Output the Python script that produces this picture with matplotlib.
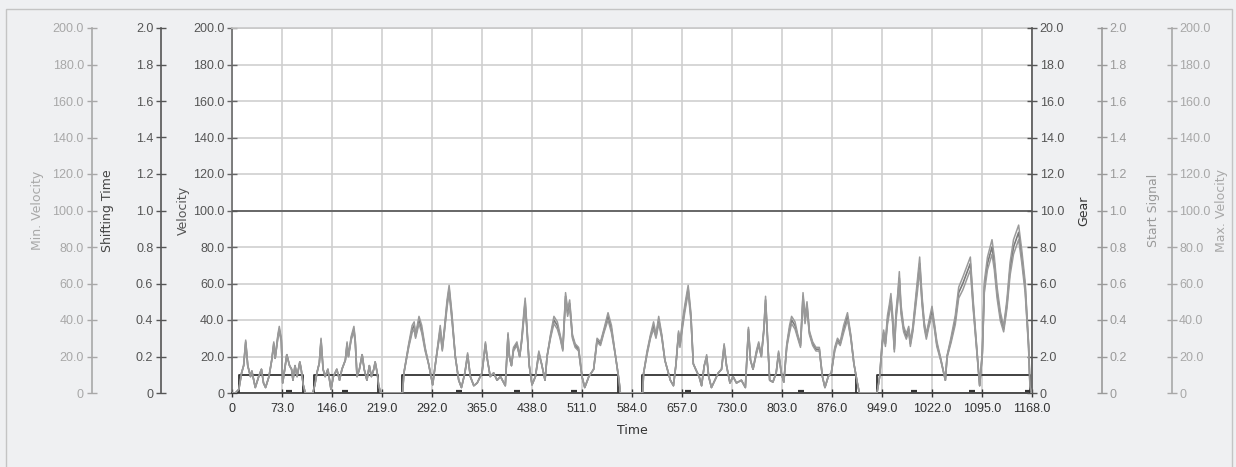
import matplotlib.pyplot as plt
from matplotlib.patches import Rectangle
from matplotlib.ticker import FuncFormatter
import numpy as np

plt.rcParams['font.family'] = ['Liberation Sans', 'DejaVu Sans']
plt.rcParams['font.size'] = 9
LABEL_FONT = dict(family=['DejaVu Sans'], size=9)

# velocity trace, one line per drive segment
time = [
    0, 5, 10, 14, 17, 20, 23, 27, 29, 34, 39, 43, 46, 49, 54, 58, 61, 63, 67, 69, 72, 74, 77, 80, 84, 87, 89, 92, 95, 99, 101, 104, 107,
    110, 118, 121, 124, 127.5, 130, 133, 136, 140, 144.5, 148, 153, 157, 160.5, 165.5, 168, 170, 174, 178, 180, 182.5, 186, 190, 193, 197, 200.5, 203.5, 207, 209, 212, 214, 217,
    230, 249, 251, 258, 263, 266, 268, 273, 277, 282, 287, 293, 297, 301, 304, 307, 310, 314, 317, 321,
    326, 331, 335, 340, 344, 348, 353, 358, 365, 370, 373, 377, 382, 387, 392, 399, 403, 405, 408, 411,
    416, 420, 423, 426, 428, 431, 434, 438, 443, 448, 452, 457, 460, 465, 470, 475, 479, 483, 487, 490,
    493, 497, 501, 506, 511, 515, 521, 528, 533, 538, 543, 549, 554, 560, 565, 567,
    580, 599.5, 601, 606, 611, 615.5, 619, 623, 627.5, 632, 640, 644.5, 648, 652, 654, 657.5, 661, 666, 670, 673.5,
    677, 682, 685.6, 689.5, 693, 696, 700, 705, 710, 714.7, 718.5, 722, 727, 731.6, 736.5, 743.7, 749.5, 754, 757, 760.7,
    765.5, 769, 772.8, 776.6, 779, 781.5, 785, 789.7, 794.5, 798, 802, 805.7, 810, 814, 817, 822, 826, 830, 833.7, 836.6,
    839.5, 843, 847.8, 852.6, 857.5, 862, 865.7, 870.5, 875, 880, 884, 888, 893, 898.6, 903.4, 908, 913, 916,
    930, 941.7, 945.6, 949, 951.4, 954, 957, 959.7, 962, 964.6, 967, 969.4, 972, 974.3, 976.7, 980.6, 984.5, 988, 990.4, 994,
    997.7, 1001, 1004, 1007.4, 1010.8, 1013.7, 1017, 1022, 1025.4, 1029, 1035, 1041.5, 1044, 1049.8, 1056, 1061, 1067, 1073, 1078, 1082,
    1087.7, 1091.6, 1095.5, 1098.4, 1103, 1109.6, 1113, 1117, 1121.8, 1126.6, 1131.5, 1136, 1141, 1148.5, 1153, 1158, 1163, 1165, 1167, 1168,
]
velocity = [
    0, 0, 2, 11, 15, 28, 15, 9, 12, 3, 9, 13, 5.5, 3, 9, 18, 27, 19, 31, 35, 29, 5.5, 13, 21, 15, 13, 7, 15, 9, 17, 13, 4.5, 0,
    0, 0, 4.5, 11, 16.5, 29, 13, 9, 13, 2, 9, 13, 7, 13, 18, 27, 20, 30, 35, 28, 9, 13, 21, 13, 7, 15, 9, 13, 17, 11, 4.5, 0,
    0, 0, 11, 26, 35, 37, 31, 40, 35, 24, 16, 4.5, 16, 27, 35, 24, 34, 49, 57, 42,
    20, 7, 3, 11, 21, 9, 4, 5.5, 11, 27, 18, 9, 11, 7, 9, 4, 32, 20, 15, 24,
    27, 20, 29, 42, 50, 33, 15, 4.5, 9, 22, 16, 7, 20, 31, 40, 37, 31, 24, 53, 44,
    49, 31, 26, 24, 9, 3, 9, 13, 29, 27, 34, 42, 35, 20, 7, 0,
    0, 0, 11, 22, 31, 37, 31, 40, 31, 18, 7, 4, 15, 33, 26, 37, 46, 57, 42, 16,
    13, 9, 4, 15, 20, 9, 3, 7, 11, 13, 26, 15, 5.5, 9, 5.5, 7, 3, 35, 18, 13,
    22, 27, 20, 35, 51, 33, 7, 6, 11, 22, 11, 6, 26, 35, 40, 37, 31, 26, 53, 40,
    48, 33, 27, 24, 24, 9, 3, 9, 11, 24, 29, 27, 35, 42, 31, 16, 5.5, 0,
    0, 0, 9, 26, 33, 27, 40, 46, 52, 40, 24, 42, 52, 63, 46, 35, 31, 35, 27, 35,
    48, 60, 71, 51, 37, 31, 37, 45, 37, 27, 18, 7, 20, 29, 40, 55, 60, 66, 71, 49,
    22, 4, 22, 58, 71, 80, 71, 55, 42, 35, 49, 68, 80, 88, 75, 58, 26, 4, 0, 0,
]
# half-width between the min and max velocity traces
spread = [
    0, 0, 0, 0, 0, 1, 0, 0, 0, 0, 0, 0, 0, 0, 0, 0, 1, 0, 1, 1.5, 1, 0, 0, 0, 0, 0, 0, 0, 0, 0, 0, 0, 0,
    0, 0, 0, 0, 0, 1, 0, 0, 0, 0, 0, 0, 0, 0, 0, 1, 0, 1, 1.5, 1, 0, 0, 0, 0, 0, 0, 0, 0, 0, 0, 0, 0,
    0, 0, 0, 1, 2, 2, 1, 2, 2, 1, 0, 0, 0, 1, 2, 1, 1, 2, 2, 2,
    0, 0, 0, 0, 1, 0, 0, 0, 0, 1, 0, 0, 0, 0, 0, 0, 1, 0, 0, 1,
    1, 0, 1, 2, 2, 1, 0, 0, 0, 1, 0, 0, 0, 1, 2, 2, 1, 1, 2, 2,
    2, 1, 1, 1, 0, 0, 0, 0, 1, 1, 1, 2, 2, 0, 0, 0,
    0, 0, 0, 1, 1, 2, 1, 2, 1, 0, 0, 0, 0, 1, 1, 2, 2, 2, 2, 0,
    0, 0, 0, 0, 1, 0, 0, 0, 0, 0, 1, 0, 0, 0, 0, 0, 0, 1, 0, 0,
    1, 1, 0, 1, 2, 1, 0, 0, 0, 1, 0, 0, 1, 2, 2, 2, 1, 1, 2, 2,
    2, 1, 1, 1, 1, 0, 0, 0, 0, 1, 1, 1, 2, 2, 1, 0, 0, 0,
    0, 0, 0, 1.5, 1.5, 1.5, 2.5, 2.5, 2.5, 2.5, 1.5, 2.5, 2.5, 3.5, 2.5, 1.5, 1.5, 1.5, 1.5, 1.5,
    2.5, 3.5, 3.5, 2.5, 1.5, 1.5, 1.5, 2.5, 1.5, 1.5, 0.5, 0, 0.5, 1.5, 2.5, 3, 3.5, 3.5, 3.5, 2.5,
    1, 0, 1, 3, 3.5, 4, 3.5, 3, 2.5, 1.5, 2.5, 3.5, 4, 4, 3.5, 3, 1.5, 0, 0, 0,
]
assert len(time) == len(velocity) == len(spread)

gear_time = [0, 10, 104, 119, 213, 248, 564, 599, 911, 942, 1165, 1168]
gear = [0, 1, 0, 1, 0, 1, 0, 1, 0, 1, 0, 0]

start_time = [0, 1168]
start_signal = [1, 1]

shift_time = [83, 165, 331, 416, 499, 666, 831, 995, 1080, 1162]
shift_dur = [0.01] * len(shift_time)

time_ticks = np.arange(0, 1169, 73)

vel = np.array(velocity)
sp = np.array(spread)
vel_min = np.clip(vel - sp, 0, None)
vel_max = vel + sp


def fmt(v, pos):
    return '0' if v == 0 else f'{v:.1f}'


W, H = 1236, 467
fig = plt.figure(figsize=(W / 100, H / 100), dpi=100, facecolor='#eff0f2')
fig.add_artist(Rectangle((6 / W, -0.1), 1226 / W, 1.1 - 9 / H, transform=fig.transFigure,
                         facecolor='none', edgecolor='#c4c4c4', lw=1))

left, right, top, bottom = 232, 1032, 28, 393
ax = fig.add_axes([left / W, 1 - bottom / H, (right - left) / W, (bottom - top) / H])
ax.set_facecolor('white')
ax.set_xlim(0, 1168)
ax.set_ylim(0, 200)
ax.set_xticks(time_ticks)
ax.set_yticks(np.arange(0, 201, 20))
ax.xaxis.set_major_formatter(FuncFormatter(fmt))
ax.yaxis.set_major_formatter(FuncFormatter(fmt))
ax.grid(color='#cfcfcf', lw=1.2)
ax.set_axisbelow(True)
ax.tick_params(axis='x', direction='inout', length=6, width=1, color='#333333', labelcolor='#333333', pad=4)
ax.tick_params(axis='y', direction='inout', length=7, width=1, color='#666666', labelcolor='#555555', pad=2)
ax.spines['left'].set_color('#6a6a6a')
ax.spines['bottom'].set_color('#333333')
ax.spines['top'].set_color('#c8c8c8')
ax.spines['right'].set_visible(False)
for s in ax.spines.values():
    s.set_linewidth(1.2)
ax.set_xlabel('Time', color='#333333', labelpad=7, **LABEL_FONT)
ax.set_ylabel('Velocity', color='#555555', **LABEL_FONT)
ax.yaxis.set_label_coords((183 - left) / 800, 0.5)
ax.yaxis.label.set_va('center')


def extra_axis(side, pos, lim, step, color, label, label_color, label_x):
    a = ax.twinx()
    a.set_ylim(0, lim)
    a.set_yticks(np.arange(0, lim + step / 2, step))
    a.yaxis.set_major_formatter(FuncFormatter(fmt))
    for name, s in a.spines.items():
        s.set_visible(name == side)
    a.spines[side].set_position(('axes', pos))
    a.spines[side].set_color(color)
    a.spines[side].set_linewidth(1.2)
    a.yaxis.set_ticks_position(side)
    a.yaxis.set_label_position(side)
    a.tick_params(axis='y', direction='inout', length=7, width=1, color=color, labelcolor=color, pad=2)
    a.set_ylabel(label, color=label_color, **LABEL_FONT)
    a.yaxis.set_label_coords(label_x, 0.5)
    a.yaxis.label.set_va('center')
    return a


gear_ax = extra_axis('right', 1.0, 20, 2, '#555555', 'Gear', '#333333', (1084 - left) / 800)
start_ax = extra_axis('right', 1.0869, 2, 0.2, '#9a9a9a', 'Start Signal', '#9a9a9a', (1153 - left) / 800)
max_ax = extra_axis('right', 1.1744, 200, 20, '#a8a8a8', 'Max. Velocity', '#a8a8a8', (1222 - left) / 800)
shift_ax = extra_axis('left', -0.0888, 2, 0.2, '#555555', 'Shifting Time', '#444444', (107 - left) / 800)
min_ax = extra_axis('left', -0.1756, 200, 20, '#a8a8a8', 'Min. Velocity', '#a8a8a8', (37 - left) / 800)

min_ax.plot(time, vel_min, color='#9a9a9a', lw=1.1)
max_ax.plot(time, vel_max, color='#9a9a9a', lw=1.1)
ax.plot(time, vel, color='#7a7a7a', lw=1.2)
start_ax.plot(start_time, start_signal, color='#555555', lw=1.2)
gear_ax.plot(gear_time, gear, color='#333333', lw=1.3, drawstyle='steps-post')
shift_ax.plot(shift_time, shift_dur, ls='none', marker='_', ms=5, mew=1.6, color='#333333')

fig.savefig('out.png', dpi=100, facecolor=fig.get_facecolor())
